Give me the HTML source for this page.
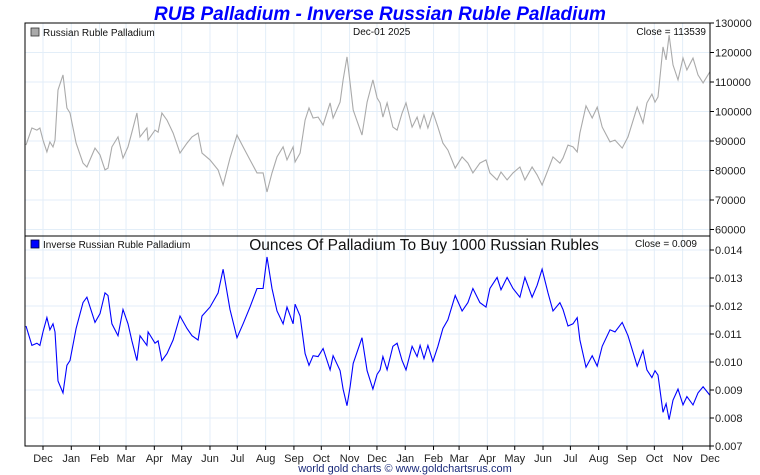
<!DOCTYPE html>
<html><head><meta charset="utf-8"><style>
html,body{margin:0;padding:0;background:#fff;}
svg{display:block;font-family:"Liberation Sans",sans-serif;}
</style></head><body>
<svg id="chart" width="760" height="475" viewBox="0 0 760 475">
<text x="380" y="20" text-anchor="middle" font-size="19" font-weight="bold" font-style="italic" fill="#0000ff">RUB Palladium - Inverse Russian Ruble Palladium</text>
<g id="grid"></g>
<g id="marks"></g>
<rect x="25" y="23" width="685" height="213" fill="none" stroke="#000"/>
<rect x="25" y="236" width="685" height="210" fill="none" stroke="#000"/>
<g id="axes"></g>
<rect x="31" y="28" width="8" height="8" fill="#aaa" stroke="#333" stroke-width="0.8"/>
<text x="43" y="36" font-size="10" fill="#111">Russian Ruble Palladium</text>
<text x="353" y="35" font-size="10" fill="#111">Dec-01  2025</text>
<text x="706" y="35" font-size="10" text-anchor="end" fill="#111">Close = 113539</text>
<rect x="31" y="240" width="8" height="8" fill="#0000ff" stroke="#003" stroke-width="0.8"/>
<text x="43" y="248" font-size="10" fill="#111">Inverse Russian Ruble Palladium</text>
<text x="424" y="250" font-size="15.5" text-anchor="middle" fill="#111">Ounces Of Palladium To Buy 1000 Russian Rubles</text>
<text x="697" y="247" font-size="10" text-anchor="end" fill="#111">Close = 0.009</text>
<text x="405" y="472" font-size="11" text-anchor="middle" fill="#1a2a7a">world gold charts © www.goldchartsrus.com</text>
</svg>
<script>
// time in months since Dec-01-2023
const times = [-0.61,-0.40,-0.22,-0.11,0,0.14,0.25,0.36,0.43,0.54,0.72,0.86,0.97,1.19,1.44,1.58,1.87,2.05,2.23,2.34,2.48,2.70,2.88,3.06,3.20,3.38,3.49,3.74,3.78,4.03,4.14,4.28,4.46,4.68,4.93,5.18,5.36,5.58,5.72,6.01,6.30,6.48,6.73,6.98,7.20,7.45,7.70,7.92,8.06,8.24,8.42,8.64,8.78,9.00,9.07,9.25,9.43,9.57,9.72,9.90,10.08,10.33,10.44,10.69,10.80,10.94,11.05,11.16,11.48,11.66,11.87,12.02,12.13,12.23,12.38,12.59,12.74,12.92,13.06,13.28,13.46,13.57,13.71,13.85,14.03,14.21,14.39,14.57,14.83,15.08,15.29,15.47,15.72,15.94,16.08,16.34,16.48,16.70,16.91,17.16,17.34,17.60,17.78,17.96,18.17,18.35,18.60,18.71,18.89,19.07,19.22,19.32,19.54,19.76,19.94,20.12,20.40,20.58,20.84,21.05,21.38,21.59,21.73,21.91,22.02,22.13,22.31,22.42,22.53,22.67,22.85,23.03,23.17,23.39,23.57,23.75,24.00];
const prices = [88600,94400,93700,94400,90300,86300,89700,88000,90300,107300,112400,101200,99500,89300,82500,81200,87600,85300,80200,80800,88000,91400,84200,88000,93000,99500,91400,94400,90300,93700,93000,99500,97100,92700,85900,89300,91400,92700,85900,83600,80200,75100,84200,92000,88000,83600,79200,79200,72700,79200,84600,88000,83600,88000,82900,85900,97100,101200,97800,98100,95400,102900,97800,103200,110700,118500,109700,100500,92000,103200,110700,104600,102900,98100,102900,94700,93700,99500,102900,94700,98100,94400,98800,94400,99800,94700,89300,86900,80800,84600,82500,79200,82500,83600,79200,76800,79500,76800,79200,81200,76800,81200,78500,75100,80200,84600,82500,84200,88600,88000,86300,92700,101900,97800,101500,94700,89700,90300,87600,91400,101500,96100,102900,105900,103200,104900,121900,117500,125900,115800,110700,118100,114100,118100,112400,109700,113539];
const monthLabels = ["Dec","Jan","Feb","Mar","Apr","May","Jun","Jul","Aug","Sep","Oct","Nov","Dec","Jan","Feb","Mar","Apr","May","Jun","Jul","Aug","Sep","Oct","Nov","Dec"];
const priceTicks = [60000,70000,80000,90000,100000,110000,120000,130000];
const inverseTicks = [0.007,0.008,0.009,0.010,0.011,0.012,0.013,0.014];

const NS="http://www.w3.org/2000/svg";
const L=25,R=710;
const xMonthDay = m => { const d=new Date(Date.UTC(2023,11+m,1)); return (d-Date.UTC(2023,11,1))/86400000; };
const totalDays = xMonthDay(24);
const xDays = d => 43 + d*(R-43)/totalDays;
const xT = t => xDays(t*totalDays/24);
const yTop = v => 23 + (130000-v)/10000*29.5;
const yBot = v => 446 - (v-0.007)/0.007*196;
function mk(tag,attrs,parent){const e=document.createElementNS(NS,tag);for(const k in attrs)e.setAttribute(k,attrs[k]);parent.appendChild(e);return e;}
const grid=document.getElementById('grid'),marks=document.getElementById('marks'),axes=document.getElementById('axes');

monthLabels.forEach((lab,i)=>{
  const x=xDays(xMonthDay(i));
  const g1=mk('line',{x1:x,x2:x,y1:23,y2:236,stroke:'#e3eef8'},grid);
  
  
  const g2=mk('line',{x1:x,x2:x,y1:236,y2:446,stroke:'#e3eef8'},grid);
  
  
  const tk=mk('line',{x1:x,x2:x,y1:446,y2:450,stroke:'#000'},axes);
  
  
  const t=mk('text',{x:x,y:462,'font-size':11,'text-anchor':'middle',fill:'#222'},axes);
  t.textContent=lab;
  
  
});
priceTicks.forEach(v=>{
  const y=yTop(v);
  if(v<130000){const g=mk('line',{x1:L,x2:R,y1:y,y2:y,stroke:'#e3eef8'},grid);
  
  }
  const tk=mk('line',{x1:R,x2:R+4,y1:y,y2:y,stroke:'#000'},axes);
  
  
  const t=mk('text',{x:R+5,y:y+4,'font-size':11,fill:'#222'},axes);
  t.textContent=String(v);
  
  
});
inverseTicks.forEach(v=>{
  const y=yBot(v);
  if(v>0.007){const g=mk('line',{x1:L,x2:R,y1:y,y2:y,stroke:'#e3eef8'},grid);
  
  }
  const tk=mk('line',{x1:R,x2:R+4,y1:y,y2:y,stroke:'#000'},axes);
  
  
  const t=mk('text',{x:R+5,y:y+4,'font-size':11,fill:'#222'},axes);
  t.textContent=v.toFixed(3);
  
  
});
const p1=times.map((t,i)=>xT(t).toFixed(1)+','+yTop(prices[i]).toFixed(1)).join(' ');
const line1=mk('polyline',{points:p1,fill:'none',stroke:'#aaaaaa','stroke-width':1.1},marks);


const p2=times.map((t,i)=>xT(t).toFixed(1)+','+yBot(1000/prices[i]).toFixed(1)).join(' ');
const line2=mk('polyline',{points:p2,fill:'none',stroke:'#0000ff','stroke-width':1.1},marks);


</script>
</body></html>
